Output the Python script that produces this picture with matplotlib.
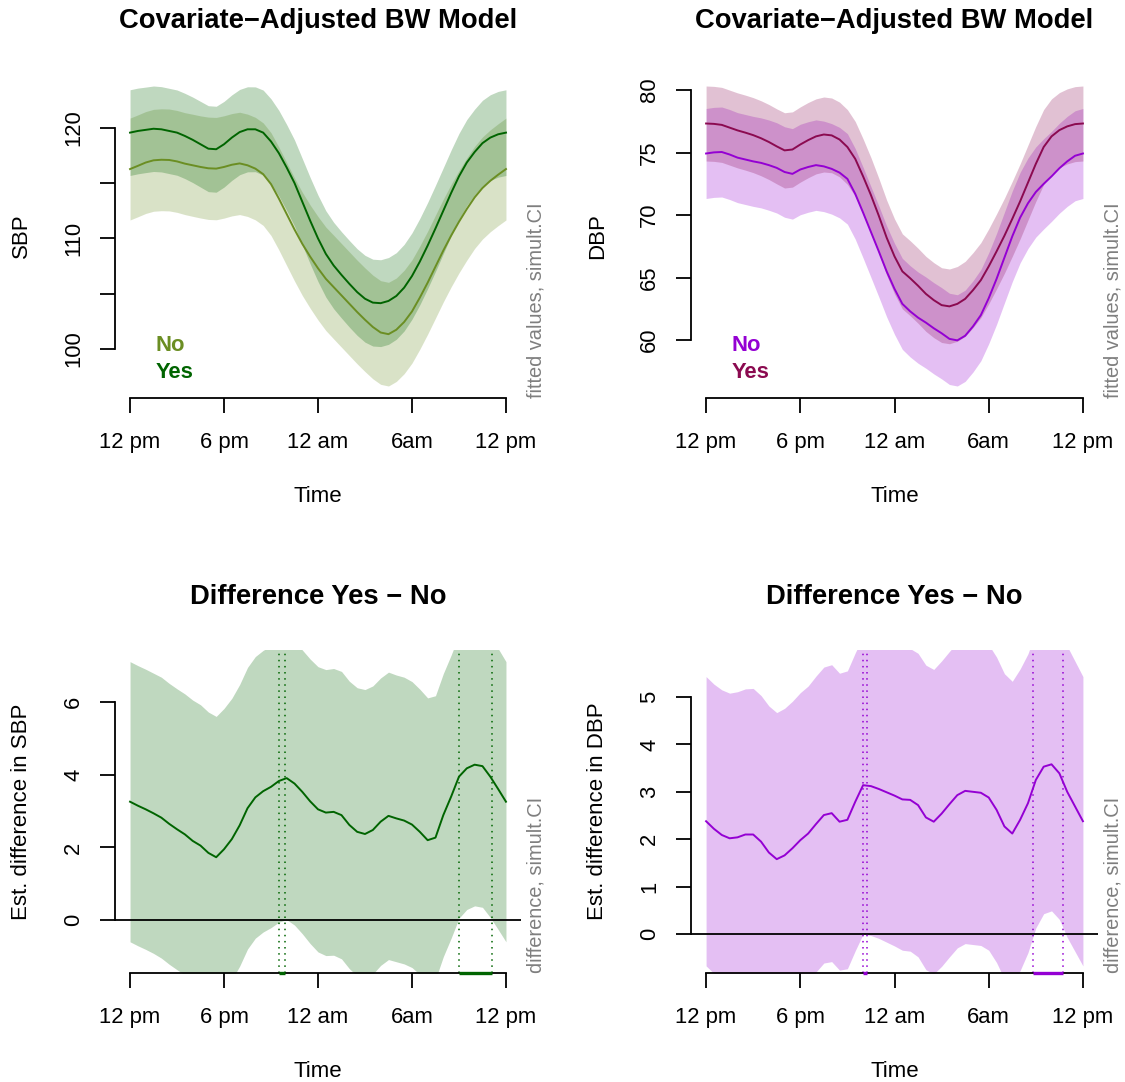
import matplotlib
matplotlib.use("Agg")
import matplotlib.pyplot as plt
import numpy as np

plt.rcParams["font.family"] = ["Liberation Sans", "DejaVu Sans"]

# hours after 12 pm, every half hour
half_hours = np.arange(0, 24.5, 0.5)

time_ticks = [0, 6, 12, 18, 24]
time_labels = ["12 pm", "6 pm", "12 am", "6am", "12 pm"]

# --- fitted SBP (with simultaneous CI half-widths) ---
sbp_yes = [119.55, 119.7, 119.8, 119.9, 119.85, 119.7, 119.55, 119.25, 118.9, 118.5, 118.1, 118.05, 118.5,
           119.1, 119.6, 119.85, 119.85, 119.55, 118.75, 117.7, 116.4, 115.0, 113.3, 111.6, 110.0,
           108.6, 107.55, 106.7, 105.9, 105.15, 104.55, 104.2, 104.15, 104.35, 104.8, 105.55, 106.6,
           107.9, 109.35, 110.9, 112.5, 114.1, 115.6, 116.85, 117.8, 118.6, 119.1, 119.4, 119.55]
sbp_yes_ci = [3.87, 3.87, 3.86, 3.86, 3.85, 3.85, 3.85, 3.85, 3.86, 3.87, 3.88, 3.88, 3.87,
              3.86, 3.85, 3.84, 3.83, 3.84, 3.85, 3.86, 3.88, 3.89, 3.9, 3.9, 3.9,
              3.9, 3.9, 3.9, 3.91, 3.91, 3.92, 3.92, 3.92, 3.92, 3.91, 3.91, 3.9,
              3.9, 3.89, 3.89, 3.88, 3.88, 3.88, 3.88, 3.87, 3.87, 3.87, 3.87, 3.87]
sbp_no = [116.26, 116.55, 116.85, 117.05, 117.1, 117.08, 116.95, 116.75, 116.6, 116.45, 116.33, 116.3, 116.45,
          116.65, 116.77, 116.6, 116.3, 115.8, 114.9, 113.6, 112.2, 110.8, 109.5, 108.35, 107.3,
          106.35, 105.6, 104.85, 104.1, 103.35, 102.65, 102.0, 101.5, 101.35, 101.75, 102.45, 103.4,
          104.65, 106.0, 107.45, 108.9, 110.25, 111.5, 112.65, 113.7, 114.55, 115.2, 115.75, 116.26]
sbp_no_ci = [4.6, 4.6, 4.6, 4.6, 4.6, 4.6, 4.6, 4.6, 4.61, 4.61, 4.62, 4.62, 4.62,
             4.62, 4.62, 4.62, 4.63, 4.63, 4.64, 4.64, 4.65, 4.65, 4.66, 4.66, 4.67,
             4.67, 4.68, 4.68, 4.68, 4.68, 4.68, 4.68, 4.68, 4.68, 4.67, 4.67, 4.66,
             4.66, 4.65, 4.65, 4.64, 4.63, 4.62, 4.62, 4.61, 4.61, 4.6, 4.6, 4.6]

# --- fitted DBP ---
dbp_yes = [77.33, 77.3, 77.22, 77.0, 76.78, 76.6, 76.4, 76.15, 75.85, 75.5, 75.18, 75.25, 75.65,
           76.0, 76.3, 76.45, 76.38, 76.05, 75.45, 74.5, 73.1, 71.6, 69.95, 68.2, 66.7,
           65.5, 64.95, 64.35, 63.7, 63.2, 62.8, 62.7, 62.9, 63.3, 64.0, 64.8, 65.9,
           67.1, 68.35, 69.7, 71.1, 72.6, 74.1, 75.45, 76.3, 76.8, 77.1, 77.28, 77.33]
dbp_yes_ci = [3.0, 3.0, 3.0, 3.0, 3.0, 3.0, 3.0, 3.0, 3.0, 3.0, 3.01, 3.01, 3.01,
              3.01, 3.0, 3.0, 2.99, 2.99, 2.99, 2.99, 3.0, 3.0, 3.0, 3.0, 3.0,
              3.0, 3.0, 3.0, 3.0, 3.0, 2.99, 2.99, 2.99, 3.0, 3.0, 3.0, 3.0,
              3.0, 3.0, 3.0, 3.0, 3.0, 3.0, 3.0, 3.0, 3.0, 3.0, 3.0, 3.0]
dbp_no = [74.93, 75.02, 75.05, 74.85, 74.6, 74.45, 74.3, 74.18, 74.0, 73.78, 73.45, 73.3, 73.65,
          73.85, 74.0, 73.9, 73.7, 73.4, 72.9, 71.7, 70.2, 68.65, 67.1, 65.5, 64.1,
          62.9, 62.3, 61.8, 61.4, 60.95, 60.55, 60.1, 59.98, 60.35, 61.1, 62.0, 63.35,
          64.9, 66.6, 68.3, 69.8, 70.95, 71.85, 72.5, 73.1, 73.75, 74.3, 74.75, 74.93]
dbp_no_ci = [3.6, 3.6, 3.6, 3.6, 3.6, 3.6, 3.6, 3.6, 3.61, 3.61, 3.62, 3.62, 3.62,
             3.62, 3.62, 3.62, 3.62, 3.62, 3.62, 3.62, 3.63, 3.63, 3.64, 3.64, 3.64,
             3.64, 3.65, 3.65, 3.65, 3.65, 3.65, 3.65, 3.65, 3.65, 3.65, 3.65, 3.64,
             3.64, 3.63, 3.63, 3.62, 3.62, 3.61, 3.61, 3.6, 3.6, 3.6, 3.6, 3.6]

# --- difference Yes - No ---
diff_sbp = [3.26, 3.15, 3.05, 2.94, 2.82, 2.65, 2.50, 2.36, 2.18, 2.05, 1.85, 1.73, 1.95, 2.23, 2.61, 3.08,
            3.38, 3.55, 3.67, 3.83, 3.91, 3.76, 3.53, 3.27, 3.05, 2.96, 2.98, 2.89, 2.62, 2.43, 2.37, 2.48,
            2.71, 2.87, 2.80, 2.74, 2.63, 2.43, 2.20, 2.27, 2.89, 3.40, 3.95, 4.18, 4.28, 4.24, 3.95, 3.61, 3.26]
diff_sbp_ci = [3.86, 3.86, 3.86, 3.86, 3.87, 3.87, 3.87, 3.87, 3.88, 3.88, 3.88, 3.88, 3.88, 3.88, 3.88, 3.88,
               3.88, 3.88, 3.88, 3.89, 3.9, 3.9, 3.91, 3.92, 3.93, 3.94, 3.95, 3.96, 3.96, 3.97, 3.98, 3.97,
               3.96, 3.96, 3.95, 3.95, 3.94, 3.93, 3.92, 3.91, 3.9, 3.9, 3.9, 3.89, 3.89, 3.89, 3.88, 3.87, 3.86]
diff_dbp = [2.38, 2.22, 2.09, 2.02, 2.04, 2.10, 2.10, 1.95, 1.72, 1.58, 1.66, 1.81, 1.98, 2.12, 2.32, 2.51,
            2.55, 2.37, 2.41, 2.79, 3.14, 3.12, 3.06, 2.99, 2.92, 2.84, 2.83, 2.72, 2.46, 2.37, 2.54, 2.74,
            2.93, 3.02, 3.00, 2.98, 2.88, 2.62, 2.27, 2.12, 2.41, 2.76, 3.25, 3.53, 3.58, 3.39, 3.00, 2.69, 2.38]
diff_dbp_ci = [3.05, 3.05, 3.06, 3.06, 3.07, 3.07, 3.08, 3.08, 3.09, 3.09, 3.1, 3.1, 3.11, 3.11, 3.12, 3.12,
               3.13, 3.13, 3.14, 3.14, 3.14, 3.15, 3.15, 3.16, 3.17, 3.18, 3.19, 3.2, 3.21, 3.21, 3.22, 3.22,
               3.22, 3.22, 3.22, 3.22, 3.22, 3.22, 3.22, 3.21, 3.18, 3.15, 3.12, 3.1, 3.09, 3.08, 3.07, 3.06, 3.05]

# windows where the difference is significant (lower bound above 0)
sig_sbp = [(9.51, 9.89), (21.0, 23.1)]
sig_dbp = [(9.97, 10.25), (20.84, 22.75)]

W, H = 1125, 1082
SIDE_GRAY = "#7f7f7f"


def px_rect(left, right, top, bottom):
    return [left / W, 1 - bottom / H, (right - left) / W, (bottom - top) / H]


def style_axes(ax, yticks, ylabels, ylabel, title, side):
    ax.set_xlim(-0.96, 24.96)
    for s in ("top", "right"):
        ax.spines[s].set_visible(False)
    ax.spines["left"].set_bounds(yticks[0], yticks[-1])
    ax.spines["bottom"].set_bounds(0, 24)
    for s in ("left", "bottom"):
        ax.spines[s].set_linewidth(1.3)
    ax.set_xticks(time_ticks, time_labels)
    ax.set_yticks(yticks, ylabels)
    ax.tick_params(axis="both", direction="out", length=10.8, width=1.3, labelsize=15.8)
    ax.tick_params(axis="x", pad=13.5)
    ax.tick_params(axis="y", pad=11.5)
    for lab in ax.get_yticklabels():
        lab.set_rotation(90)
        lab.set_va("center")
    ax.set_xlabel("Time", fontsize=16, labelpad=24)
    ax.set_ylabel(ylabel, fontsize=16, labelpad=22.5)
    ax.set_title(title, fontsize=19.7, fontweight="bold", pad=33)
    ax.text(1.037, 0.0, side, transform=ax.transAxes, rotation=90, ha="center", va="bottom",
            fontsize=14.4, color=SIDE_GRAY)


def fitted_panel(ax, no, no_ci, yes, yes_ci, c_no, c_yes, yticks, ylabels, ylabel):
    no, no_ci, yes, yes_ci = map(np.asarray, (no, no_ci, yes, yes_ci))
    lo = min((no - no_ci).min(), (yes - yes_ci).min())
    hi = max((no + no_ci).max(), (yes + yes_ci).max())
    pad = 0.04 * (hi - lo)
    ax.fill_between(half_hours, no - no_ci, no + no_ci, color=c_no, alpha=0.25, lw=0)
    ax.fill_between(half_hours, yes - yes_ci, yes + yes_ci, color=c_yes, alpha=0.25, lw=0)
    ax.plot(half_hours, no, color=c_no, lw=1.4)
    ax.plot(half_hours, yes, color=c_yes, lw=1.4)
    ax.set_ylim(lo - pad, hi + pad)
    style_axes(ax, yticks, ylabels, ylabel,
               "Covariate\u2212Adjusted BW Model", "fitted values, simult.CI")
    ax.text(0.10, 0.145, "No", transform=ax.transAxes, color=c_no, fontsize=15.8,
            fontweight="bold", va="baseline", ha="left")
    ax.text(0.10, 0.062, "Yes", transform=ax.transAxes, color=c_yes, fontsize=15.8,
            fontweight="bold", va="baseline", ha="left")


def diff_panel(ax, diff, ci, sig, color, ylim, yticks, ylabel):
    diff, ci = np.asarray(diff), np.asarray(ci)
    ax.fill_between(half_hours, diff - ci, diff + ci, color=color, alpha=0.25, lw=0)
    ax.plot(half_hours, diff, color=color, lw=1.4)
    ax.axhline(0, color="black", lw=1.3)
    ax.set_ylim(*ylim)
    for start, end in sig:
        for x in (start, end):
            ax.axvline(x, color=color, lw=1.1, linestyle=(0, (1, 3)))
        ax.plot([start, end], [ylim[0], ylim[0]], color=color, lw=2.4,
                solid_capstyle="butt", clip_on=False, zorder=5)
    style_axes(ax, yticks, [str(t) for t in yticks], ylabel,
               "Difference Yes \u2212 No", "difference, simult.CI")


def main() -> None:
    fig = plt.figure(figsize=(W / 100, H / 100), dpi=100)

    ax1 = fig.add_axes(px_rect(115, 521, 74, 398))
    fitted_panel(ax1, sbp_no, sbp_no_ci, sbp_yes, sbp_yes_ci, "olivedrab", "darkgreen",
                 [100, 105, 110, 115, 120], ["100", "", "110", "", "120"], "SBP")

    ax2 = fig.add_axes(px_rect(691, 1098, 74, 398))
    fitted_panel(ax2, dbp_no, dbp_no_ci, dbp_yes, dbp_yes_ci, "darkviolet", "#8B0A50",
                 [60, 65, 70, 75, 80], ["60", "65", "70", "75", "80"], "DBP")

    ax3 = fig.add_axes(px_rect(115, 521, 650, 973))
    diff_panel(ax3, diff_sbp, diff_sbp_ci, sig_sbp, "darkgreen", (-1.46, 7.44),
               [0, 2, 4, 6], "Est. difference in SBP")

    ax4 = fig.add_axes(px_rect(691, 1098, 650, 973))
    diff_panel(ax4, diff_dbp, diff_dbp_ci, sig_dbp, "darkviolet", (-0.82, 5.99),
               [0, 1, 2, 3, 4, 5], "Est. difference in DBP")

    fig.savefig("out.png", dpi=100)
    plt.close(fig)


if __name__ == "__main__":
    main()
